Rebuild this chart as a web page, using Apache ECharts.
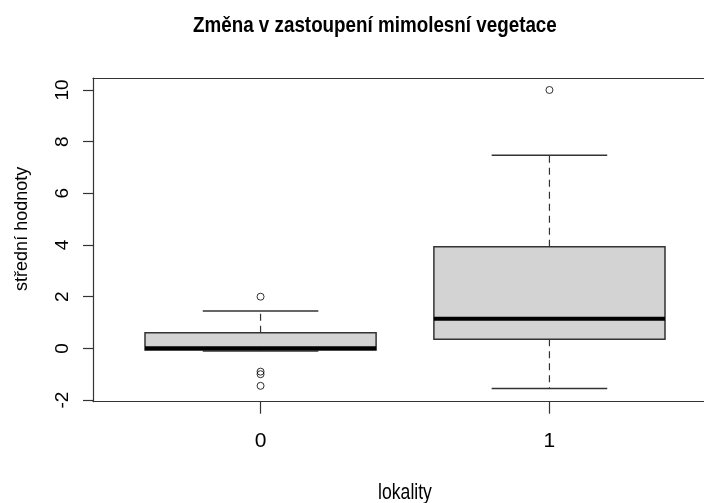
<!DOCTYPE html>
<html><head><meta charset="utf-8">
<script src="https://cdn.jsdelivr.net/npm/echarts@6/dist/echarts.min.js"></script>
<style>html,body{margin:0;padding:0;background:#fff}#c{width:704px;height:503px}</style>
</head><body><div id="c"></div>
<script>
// ---- data ----
const categories = ['0', '1'];
const positions = [0, 1];
const whiskerLow = [-0.1, -1.55];
const q1 = [-0.06, 0.35];
const median = [0, 1.15];
const q3 = [0.6, 3.93];
const whiskerHigh = [1.45, 7.47];
const outliers0 = [2.0, -0.9, -1.0, -1.45];
const outliers1 = [10.0];
const yTicks = [-2, 0, 2, 4, 6, 8, 10];
const titleText = 'Změna v zastoupení mimolesní vegetace';
const xName = 'lokality';
const yName = 'střední hodnoty';

const FONT = 'Liberation Sans, Arial, sans-serif';
const AXIS = '#333';

const boxData = positions.map((p, i) => [p, whiskerLow[i], q1[i], median[i], q3[i], whiskerHigh[i]]);
const outlierData = outliers0.map(v => [positions[0], v]).concat(outliers1.map(v => [positions[1], v]));

function renderBox(params, api) {
  const x = api.value(0);
  const lo = api.coord([x, api.value(1)]);
  const b = api.coord([x, api.value(2)]);
  const m = api.coord([x, api.value(3)]);
  const t = api.coord([x, api.value(4)]);
  const hi = api.coord([x, api.value(5)]);
  const boxW = api.size([0.8, 0])[0];
  const capW = boxW / 2;
  const cx = lo[0];
  const dash = { stroke: AXIS, lineWidth: 1.2, lineDash: [7, 5] };
  const solid = { stroke: AXIS, lineWidth: 1.5 };
  return {
    type: 'group',
    children: [
      { type: 'line', shape: { x1: cx, y1: t[1], x2: cx, y2: hi[1] }, style: dash },
      { type: 'line', shape: { x1: cx, y1: b[1], x2: cx, y2: lo[1] }, style: dash },
      { type: 'line', shape: { x1: cx - capW / 2, y1: hi[1], x2: cx + capW / 2, y2: hi[1] }, style: solid },
      { type: 'line', shape: { x1: cx - capW / 2, y1: lo[1], x2: cx + capW / 2, y2: lo[1] }, style: solid },
      { type: 'rect', shape: { x: cx - boxW / 2, y: t[1], width: boxW, height: b[1] - t[1] }, style: { fill: '#d3d3d3', stroke: AXIS, lineWidth: 1.5 } },
      { type: 'line', shape: { x1: cx - boxW / 2, y1: m[1], x2: cx + boxW / 2, y2: m[1] }, style: { stroke: '#000', lineWidth: 4 } }
    ]
  };
}

const chart = echarts.init(document.getElementById('c'), null, { renderer: 'canvas' });
chart.setOption({
  animation: false,
  backgroundColor: '#fff',
  graphic: [
    { type: 'text', x: 193, y: 26, scaleX: 0.836, silent: true,
      style: { text: titleText, font: 'bold 22.5px Liberation Sans', fill: '#000', align: 'left', verticalAlign: 'middle' } },
    { type: 'text', x: 405, y: 493, scaleX: 0.8, silent: true,
      style: { text: xName, font: '22px Liberation Sans', fill: '#000', align: 'center', verticalAlign: 'middle' } }
  ],
  grid: { left: 93, right: 0, top: 78, bottom: 101.3, containLabel: false, outerBoundsMode: 'none' },
  xAxis: [{
    type: 'value', min: -0.58, max: 1.535, position: 'bottom',
    axisLine: { show: true, onZero: false, lineStyle: { color: AXIS, width: 1.2 } },
    axisTick: { show: true, customValues: positions, length: 12, lineStyle: { color: AXIS, width: 1.2 } },
    axisLabel: { customValues: positions, formatter: v => categories[positions.indexOf(v)], fontSize: 21, margin: 29, color: '#000', fontFamily: FONT },
    splitLine: { show: false }
  }, {
    type: 'value', min: -0.58, max: 1.535, position: 'top',
    axisLine: { show: true, onZero: false, lineStyle: { color: AXIS, width: 1.2 } },
    axisTick: { show: false }, axisLabel: { show: false }, splitLine: { show: false }
  }],
  yAxis: {
    type: 'value', min: -2.064, max: 10.464,
    axisLine: { show: true, onZero: false, lineStyle: { color: AXIS, width: 1.2 } },
    axisTick: { show: true, customValues: yTicks, length: 10, lineStyle: { color: AXIS, width: 1.2 } },
    axisLabel: { customValues: yTicks, rotate: 90, fontSize: 19, margin: 21, color: '#000', fontFamily: FONT },
    splitLine: { show: false },
    name: yName, nameLocation: 'middle', nameRotate: 90, nameGap: 62,
    nameTextStyle: { fontSize: 18, color: '#000', fontFamily: FONT, padding: [0, 0, 0, 22] }
  },
  series: [{
    type: 'custom', name: 'box', renderItem: renderBox, data: boxData,
    encode: { x: 0, y: [1, 2, 3, 4, 5] }, clip: false, z: 2
  }, {
    type: 'scatter', name: 'outliers', data: outlierData, symbol: 'circle', symbolSize: 7,
    itemStyle: { color: 'rgba(0,0,0,0)', borderColor: '#000', borderWidth: 1 }, z: 3
  }]
});
</script></body></html>
